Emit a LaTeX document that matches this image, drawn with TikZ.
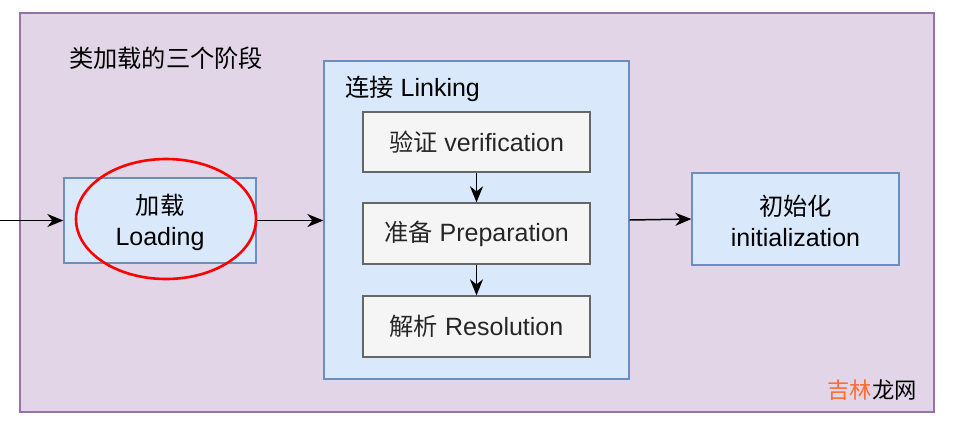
\documentclass[tikz,border=0pt]{standalone}
\usepackage{fontspec}
\setmainfont{Liberation Sans}
\newfontfamily\cjk[Scale=0.97]{Noto Sans CJK SC}
\usetikzlibrary{arrows.meta,shapes.geometric}
\definecolor{outerfill}{HTML}{E1D5E7}
\definecolor{outerdraw}{HTML}{9673A6}
\definecolor{bluefill}{HTML}{DAE8FC}
\definecolor{bluedraw}{HTML}{6C8EBF}
\definecolor{greyfill}{HTML}{F5F5F5}
\definecolor{greydraw}{HTML}{666666}
\definecolor{wmorange}{HTML}{FF6A2F}
\tikzset{
  txt/.style={font=\fontsize{25}{31}\selectfont, align=center, inner sep=0pt},
  bluebox/.style={draw=bluedraw, fill=bluefill, line width=1.3pt, txt},
  greybox/.style={draw=greydraw, fill=greyfill, line width=1.3pt, txt, text=black!85},
  arr/.style={line width=1.5pt, -{Stealth[length=16pt,width=13pt,inset=5pt]}},
}
\begin{document}
\begin{tikzpicture}[x=1pt,y=-1pt]
\useasboundingbox[fill=white] (0,0) rectangle (957,426);
% outer
\node[draw=outerdraw, fill=outerfill, line width=1.3pt, minimum width=914pt, minimum height=399pt, inner sep=0pt] (outer) at (477,212.5) {};
\node[txt, anchor=west] (title) at (69,58) {\cjk 类加载的三个阶段};
% loading
\node[bluebox, minimum width=192pt, minimum height=85pt] (load) at (160,220.5) {};
\node[txt] (loadtxt) at (160,222.5) {{\cjk 加载}\\Loading};
\draw[red, line width=2.6pt] (166,219) ellipse [x radius=90, y radius=60];
% linking
\node[bluebox, minimum width=305pt, minimum height=318pt] (link) at (476.5,220) {};
\node[txt, anchor=west] (linktitle) at (345,89) {{\cjk 连接} Linking};
\node[greybox, minimum width=227pt, minimum height=60pt] (ver) at (476.5,142) {{\cjk 验证} verification};
\node[greybox, minimum width=227pt, minimum height=61pt] (prep) at (476.5,233.5) {{\cjk 准备} Preparation};
\node[greybox, minimum width=227pt, minimum height=61pt] (res) at (476.5,326.5) {{\cjk 解析} Resolution};
% init
\node[bluebox, minimum width=207pt, minimum height=92pt] (init) at (795.5,219) {};
\node[txt] (inittxt) at (795.5,221) {{\cjk 初始化}\\initialization};
% arrows
\coordinate (start) at (0,220.5);
\draw[arr] (start) -- (load.west);
\draw[arr] (load.east) -- (load.east -| link.west);
\draw[arr] (link.east) -- (init.west);
\draw[arr] (ver) -- (prep);
\draw[arr] (prep) -- (res);
% watermark
\node[txt, anchor=east, font=\fontsize{23}{26}\selectfont, fill=outerfill] (wm) at (917,390) {\cjk\textcolor{wmorange}{吉林}龙网};
\end{tikzpicture}
\end{document}
